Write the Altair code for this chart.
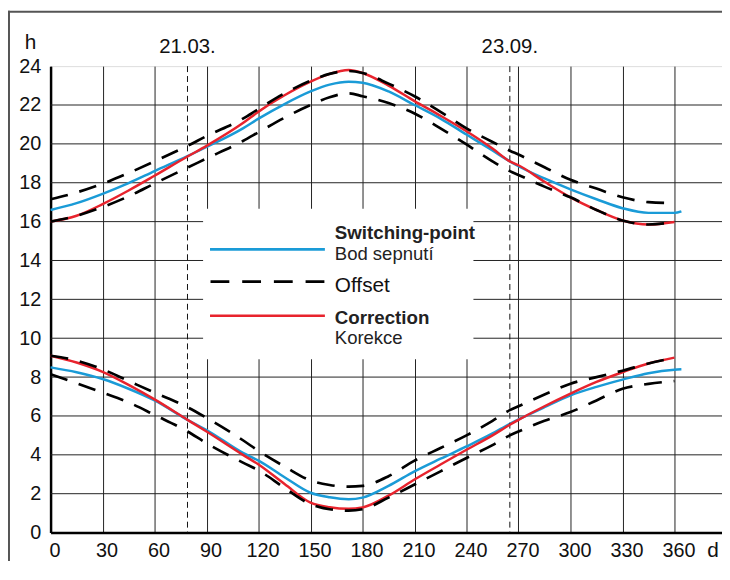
import altair as alt
import pandas as pd

# ---------------- data ----------------
days = [0, 15, 30, 45, 60, 79, 90, 111, 120, 135, 150, 161, 172, 180, 195,
        210, 225, 240, 255, 265, 270, 285, 300, 315, 330, 345, 360]
blue_days = days + [364]

# evening group (upper curves)
evening_switch = [16.6, 16.95, 17.43, 17.98, 18.6, 19.37, 19.84, 20.8, 21.3, 22.05, 22.7, 23.05, 23.2, 23.15,
                  22.7, 22.0, 21.3, 20.48, 19.66, 19.1, 18.85, 18.22, 17.66, 17.15, 16.69, 16.45, 16.45, 16.53]
evening_corr = [16.0, 16.3, 16.9, 17.6, 18.36, 19.35, 19.9, 21.07, 21.66, 22.5, 23.2, 23.6, 23.8, 23.65,
                23.0, 22.2, 21.45, 20.65, 19.76, 19.1, 18.9, 18.05, 17.25, 16.6, 16.06, 15.85, 15.98]
evening_off_hi = [17.15, 17.5, 17.95, 18.5, 19.1, 19.9, 20.4, 21.3, 21.8, 22.6, 23.25, 23.6, 23.75, 23.65,
                  23.1, 22.45, 21.65, 20.8, 20.1, 19.65, 19.45, 18.8, 18.15, 17.7, 17.25, 17.0, 16.95]
evening_off_lo = [16.0, 16.3, 16.75, 17.3, 17.96, 18.78, 19.25, 20.15, 20.6, 21.35, 22.0, 22.4, 22.6, 22.45,
                  22.1, 21.56, 20.8, 19.97, 19.1, 18.6, 18.4, 17.8, 17.25, 16.6, 16.06, 15.85, 15.98]

# morning group (lower curves)
morning_switch = [8.5, 8.25, 7.9, 7.4, 6.8, 5.8, 5.28, 4.1, 3.7, 2.85, 2.05, 1.82, 1.72, 1.8,
                  2.4, 3.15, 3.8, 4.43, 5.1, 5.6, 5.82, 6.45, 7.06, 7.5, 7.87, 8.2, 8.38, 8.4]
morning_corr = [9.1, 8.75, 8.27, 7.6, 6.85, 5.8, 5.2, 4.0, 3.5, 2.5, 1.54, 1.3, 1.22, 1.29,
                1.9, 2.73, 3.5, 4.26, 5.0, 5.55, 5.8, 6.5, 7.15, 7.75, 8.25, 8.7, 9.0]
morning_off_hi = [9.1, 8.85, 8.4, 7.8, 7.2, 6.45, 5.9, 4.75, 4.2, 3.4, 2.68, 2.45, 2.36, 2.4,
                  2.9, 3.7, 4.35, 5.0, 5.75, 6.3, 6.5, 7.1, 7.66, 8.0, 8.33, 8.7, 9.0]
morning_off_lo = [8.15, 7.68, 7.2, 6.7, 6.05, 5.2, 4.6, 3.6, 3.2, 2.3, 1.46, 1.2, 1.13, 1.2,
                  1.8, 2.47, 3.15, 3.84, 4.5, 5.0, 5.2, 5.75, 6.2, 6.8, 7.4, 7.65, 7.8]

x_ticks = [0, 30, 60, 90, 120, 150, 180, 210, 240, 270, 300, 330, 360]
y_ticks = [0, 2, 4, 6, 8, 10, 12, 14, 16, 18, 20, 22, 24]
h_grid = [2, 4, 6, 8, 10, 12, 14, 16, 18, 20, 22]
mark_days = [79, 265]
mark_labels = ["21.03.", "23.09."]

# ---------------- tables ----------------
series = [
    ("ev_sw", "switch", blue_days, evening_switch),
    ("mo_sw", "switch", blue_days, morning_switch),
    ("ev_co", "corr", days, evening_corr),
    ("mo_co", "corr", days, morning_corr),
    ("ev_hi", "offset", days, evening_off_hi),
    ("ev_lo", "offset", days, evening_off_lo),
    ("mo_hi", "offset", days, morning_off_hi),
    ("mo_lo", "offset", days, morning_off_lo),
]
rows = []
for name, kind, ds, vs in series:
    for d, v in zip(ds, vs):
        rows.append({"day": d, "value": v, "series": name, "kind": kind})
df = pd.DataFrame(rows)

W, H = 678, 471
PX_PER_DAY = 1.75
XMAX = W / PX_PER_DAY
FONT = "Liberation Sans"

xs = alt.Scale(domain=[0, XMAX], nice=False, zero=False)
ys = alt.Scale(domain=[0, 24], nice=False)

one = pd.DataFrame({"k": [0]})

x_axis = alt.Axis(
    values=x_ticks, grid=True, gridColor="#222", gridWidth=1, ticks=False,
    domainColor="#000", domainWidth=2.5, labelFontSize=20, labelPadding=8,
    labelOffset=4, labelFlush=False, labelOverlap=False, labelColor="#111",
    title=None, labelFont=FONT)
y_axis = alt.Axis(
    values=y_ticks, grid=False, ticks=False, domainColor="#000", domainWidth=2.5,
    labelFontSize=20, labelPadding=10, labelOverlap=False, labelFlush=False,
    labelColor="#111", title=None, labelFont=FONT)

x_enc = alt.X("day:Q", scale=xs, axis=x_axis)
y_enc = alt.Y("value:Q", scale=ys, axis=y_axis)

base_lines = alt.Chart(df).encode(x=x_enc, y=y_enc, detail="series:N", order="day:Q")

hgrid = alt.Chart(pd.DataFrame({"value": h_grid})).mark_rule(color="#222", strokeWidth=1).encode(
    y=alt.Y("value:Q", scale=ys, axis=y_axis), x=alt.value(0), x2=alt.value(W))

marks_df = pd.DataFrame({"day": mark_days, "label": mark_labels})
date_rules = alt.Chart(marks_df).mark_rule(color="#111", strokeWidth=1, strokeDash=[6, 4]).encode(
    x=alt.X("day:Q", scale=xs, axis=x_axis), y=alt.value(0), y2=alt.value(H))
date_text = alt.Chart(marks_df).mark_text(fontSize=20.5, font=FONT, align="center",
                                          baseline="alphabetic", color="#111").encode(
    x=alt.X("day:Q", scale=xs, axis=x_axis), y=alt.value(-13), text="label:N")

# legend (box + samples + texts)
leg_box = alt.Chart(one).mark_rect(fill="white").encode(
    x=alt.value(154), x2=alt.value(427), y=alt.value(144), y2=alt.value(296))
leg_blue = alt.Chart(one).mark_rule(color="#1a9bd7", strokeWidth=2.6).encode(
    x=alt.value(161), x2=alt.value(277), y=alt.value(185))
leg_dash = alt.Chart(one).mark_rule(color="#000", strokeWidth=2.8, strokeDash=[19, 13]).encode(
    x=alt.value(161.5), x2=alt.value(277), y=alt.value(217.7))
leg_red = alt.Chart(one).mark_rule(color="#e8232d", strokeWidth=2.6).encode(
    x=alt.value(161), x2=alt.value(277), y=alt.value(252))


def txt(s, x, y, size, weight="normal", color="#222"):
    return alt.Chart(one).mark_text(text=s, fontSize=size, fontWeight=weight, font=FONT,
                                    align="left", baseline="alphabetic", color=color).encode(
        x=alt.value(x), y=alt.value(y))


leg_texts = [
    txt("Switching-point", 287, 175, 18.9, "bold"),
    txt("Bod sepnutí", 287, 196, 18.7),
    txt("Offset", 287, 227.7, 21, color="#111"),
    txt("Correction", 287, 260, 18.9, "bold"),
    txt("Korekce", 287, 281, 18.7),
]

blue = base_lines.transform_filter(alt.datum.kind == "switch").mark_line(
    color="#1a9bd7", strokeWidth=2.5, interpolate="monotone")
red = base_lines.transform_filter(alt.datum.kind == "corr").mark_line(
    color="#e8232d", strokeWidth=2.5, interpolate="monotone")
dashed = base_lines.transform_filter(alt.datum.kind == "offset").mark_line(
    color="#000", strokeWidth=2.7, strokeDash=[18, 12], interpolate="monotone")

h_lab = txt("h", -26, -17, 21, color="#111")
d_lab = txt("d", 663, 496, 21, color="#111")

frame_left = alt.Chart(one).mark_rule(color="#555", strokeWidth=2).encode(
    x=alt.value(-42), y=alt.value(-56), y2=alt.value(H + 30))
frame_top = alt.Chart(one).mark_rule(color="#555", strokeWidth=2).encode(
    y=alt.value(-55), x=alt.value(-43), x2=alt.value(W + 10))

chart = alt.layer(
    hgrid, blue, date_rules, leg_box, leg_blue, leg_dash, leg_red, *leg_texts,
    red, dashed, date_text, h_lab, d_lab, frame_left, frame_top
).properties(
    width=W, height=H,
    padding={"left": 43, "top": 56, "right": 0, "bottom": 26},
    autosize=alt.AutoSizeParams(type="none"),
).configure_view(stroke=None).configure(font=FONT, background="white")

chart.save("out.html", embed_options={"renderer": "svg", "actions": False})
